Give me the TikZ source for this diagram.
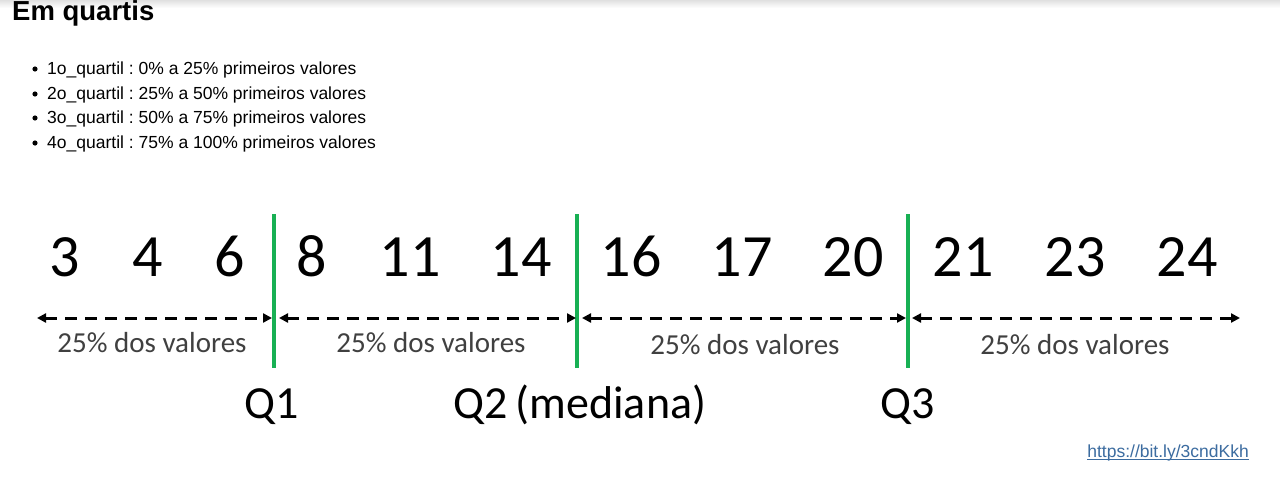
\documentclass[tikz,border=0pt]{standalone}
\usepackage{fontspec}
\setmainfont{Liberation Sans}
\newfontfamily\calib{Carlito}
\usetikzlibrary{arrows.meta}
\definecolor{qgreen}{RGB}{24,176,84}
\definecolor{lblgray}{RGB}{64,64,64}
\definecolor{linkblue}{RGB}{60,108,160}
\frenchspacing
\tikzset{
  numtxt/.style={anchor=base, font=\calib\fontsize{60}{72}\selectfont, inner sep=0pt},
  pcttxt/.style={anchor=base, font=\calib\fontsize{29}{35}\selectfont, text=lblgray, inner sep=0pt},
  qtxt/.style={anchor=base, font=\calib\fontsize{46}{55}\selectfont, inner sep=0pt},
  bultxt/.style={anchor=base west, font=\fontsize{17.5}{21}\selectfont, inner sep=0pt},
  qline/.style={draw=qgreen, line width=4pt},
  span/.style={line width=3pt, dash pattern=on 12pt off 8pt,
     {Triangle[length=9pt,width=9pt]}-{Triangle[length=9pt,width=9pt]}},
}
\begin{document}
\begin{tikzpicture}[x=1pt,y=-1pt]
\useasboundingbox (0,0) rectangle (1280,477);
\fill[white] (0,0) rectangle (1280,477);
\shade[top color=black!12, bottom color=white] (0,0) rectangle (1280,8);
% title
\node[anchor=base west, inner sep=0pt, font=\bfseries\fontsize{27.5}{33}\selectfont] (title) at (12,20) {Em quartis};
% bullets
\foreach \y/\t [count=\i] in {74/{1o\_quartil : 0\% a 25\% primeiros valores},
  99/{2o\_quartil : 25\% a 50\% primeiros valores},
  123/{3o\_quartil : 50\% a 75\% primeiros valores},
  148/{4o\_quartil : 75\% a 100\% primeiros valores}} {
  \fill (35,\y-5) circle (2.6);
  \node[bultxt] (b\i) at (47,\y) {\t};
}
% numbers
\foreach \x/\n [count=\i] in {65/3,148/4,230/6,312/8,410/11,521/14,631/16,742/17,853/20,963/21,1075/23,1187/24}
  \node[numtxt] (n\i) at (\x,276) {\n};
% green quartile lines
\coordinate (q1t) at (274,214); \coordinate (q1b) at (274,368);
\coordinate (q2t) at (577,214); \coordinate (q2b) at (577,368);
\coordinate (q3t) at (908,214); \coordinate (q3b) at (908,368);
\draw[qline] (q1t) -- (q1b);
\draw[qline] (q2t) -- (q2b);
\draw[qline] (q3t) -- (q3b);
% dashed spans
\coordinate (a0) at (37,318); \coordinate (a1) at (272,318);
\coordinate (b0) at (279,318); \coordinate (b1) at (576,318);
\coordinate (c0) at (582,318); \coordinate (c1) at (906,318);
\coordinate (d0) at (912,318); \coordinate (d1) at (1240,318);
\draw[span] (a0) -- (a1);
\draw[span] (b0) -- (b1);
\draw[span] (c0) -- (c1);
\draw[span] (d0) -- (d1);
% percentage labels
\node[pcttxt] (p1) at (152,352) {25\% dos valores};
\node[pcttxt] (p2) at (431,352) {25\% dos valores};
\node[pcttxt] (p3) at (745,354) {25\% dos valores};
\node[pcttxt] (p4) at (1075,354) {25\% dos valores};
% Q labels
\node[qtxt] (Q1) at (272,418) {Q1};
\node[qtxt] (Q2) at (580,418) {Q2\,(mediana)};
\node[qtxt] (Q3) at (908,418) {Q3};
% link
\node[anchor=base east, inner sep=0pt, text=linkblue, font=\fontsize{17.5}{21}\selectfont] (link) at (1249,457) {https://bit.ly/3cndKkh};
\draw[linkblue, line width=1pt] ([yshift=-2.5pt]link.base west) -- ([yshift=-2.5pt]link.base east);
\end{tikzpicture}
\end{document}
